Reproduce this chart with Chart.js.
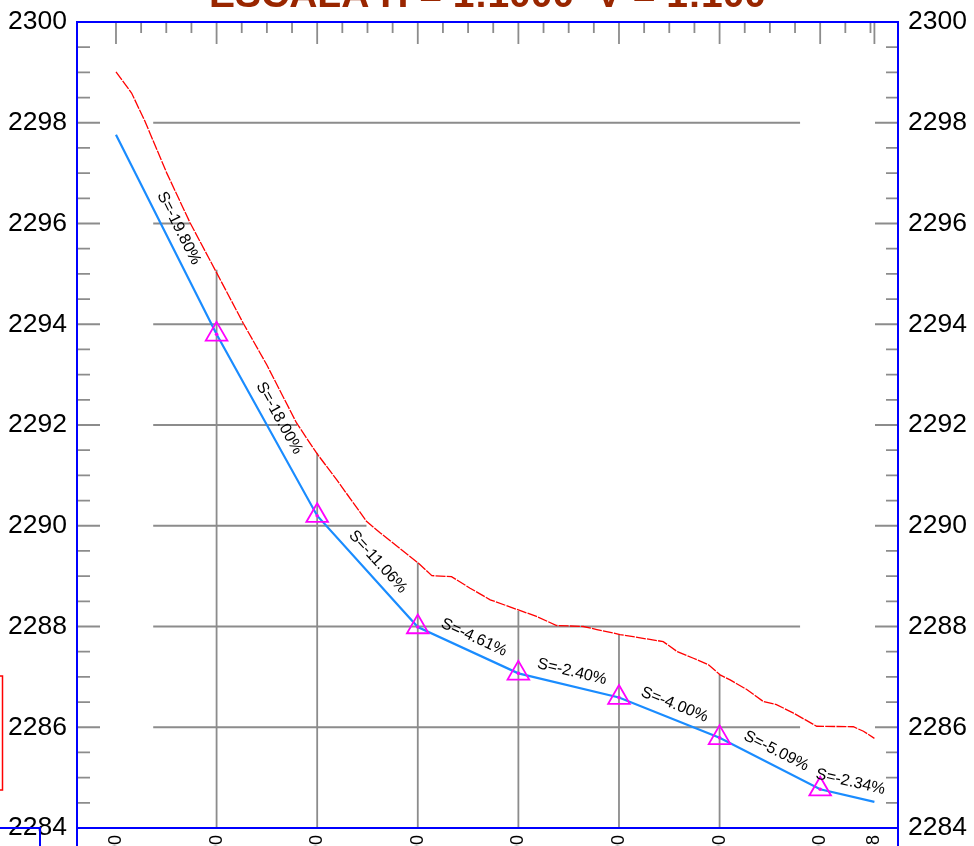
<!DOCTYPE html>
<html>
<head>
<meta charset="utf-8">
<title>Perfil longitudinal</title>
<script src="https://cdn.jsdelivr.net/npm/chart.js@4.4.0/dist/chart.umd.min.js"></script>
<style>
  html, body { margin: 0; padding: 0; background: #fff; overflow: hidden; }
  #wrap { position: relative; width: 974px; height: 980px; }
</style>
</head>
<body>
<div id="wrap"><canvas id="profile" width="974" height="980"></canvas></div>
<script>
const FONT = "'Liberation Sans', Arial, sans-serif";
const titleText = "ESCALA H = 1:1000  V = 1:100";

// stations of the grade break points (PVI) and the end of the alignment
const stations = [0, 20, 40, 60, 80, 100, 120, 140, 150.78];
const stationLabels = [
  "0+000.00", "0+020.00", "0+040.00", "0+060.00", "0+080.00",
  "0+100.00", "0+120.00", "0+140.00", "0+150.78",
];
const gradeElev = [2297.76, 2293.80, 2290.20, 2287.99, 2287.07, 2286.59, 2285.79, 2284.77, 2284.52];
const slopeLabels = [
  "S=-19.80%", "S=-18.00%", "S=-11.06%", "S=-4.61%",
  "S=-2.40%", "S=-4.00%", "S=-5.09%", "S=-2.34%",
];
const pviStations = [20, 40, 60, 80, 100, 120, 140];
const pviElev = [2293.80, 2290.20, 2287.99, 2287.07, 2286.59, 2285.79, 2284.77];

// existing ground (terreno natural)
const groundStations = [
  0, 3.1, 5.8, 10.1, 14.7, 19.7, 25.3, 30.0, 35.9, 39.9, 43.9, 49.8, 52.5,
  60.1, 62.8, 66.7, 70.4, 74.4, 78.3, 83.6, 87.6, 92.9, 95.6, 100.2, 108.8,
  111.6, 114.8, 117.8, 120.1, 122.1, 125.4, 128.7, 131.3, 134.7, 139.3,
  146.6, 148.6, 150.78,
];
const groundElev = [
  2299.01, 2298.59, 2298.02, 2297.00, 2296.02, 2295.08, 2294.02, 2293.19, 2292.04, 2291.44, 2290.91, 2290.09, 2289.86,
  2289.26, 2289.01, 2288.99, 2288.76, 2288.53, 2288.39, 2288.20, 2288.02, 2288.00, 2287.94, 2287.84, 2287.70,
  2287.50, 2287.37, 2287.24, 2287.04, 2286.94, 2286.75, 2286.51, 2286.45, 2286.28, 2286.02,
  2286.01, 2285.92, 2285.78,
];

// horizontal reference lines and how far they run
const gridElevations = [2298, 2296, 2294, 2292, 2290, 2288, 2286];
const gridStart = [7.4, 7.4, 7.4, 7.4, 7.4, 7.4, 7.4];
const gridEnd = [136, 14.7, 25.3, 36.0, 49.8, 136, 136];

// vertical station lines, from the bottom up to the ground
const vGridStations = [20, 40, 60, 80, 100, 120];
const vGridTop = [2295.08, 2291.45, 2289.27, 2288.31, 2287.84, 2287.04];

const yMin = 2284;
const yMax = 2300;
const yLabelStep = 2;
const yMinorStep = 0.5;
const topMinorStep = 5;
const topMajorStep = 20;

const gray = "#8c8c8c";

const hGridData = gridElevations.flatMap((e, i) => [
  { x: gridStart[i], y: e },
  { x: gridEnd[i], y: e },
  { x: gridEnd[i], y: null },
]);
const vGridData = vGridStations.flatMap((s, i) => [
  { x: s, y: yMin },
  { x: s, y: vGridTop[i] },
  { x: s, y: null },
]);

const profileDecor = {
  id: "profileDecor",
  beforeDatasetsDraw(chart) {
    const { ctx, chartArea: a, scales } = chart;
    const xs = scales.x;
    const ys = scales.y;
    ctx.save();
    ctx.strokeStyle = gray;
    ctx.lineWidth = 1.8;
    ctx.beginPath();
    // elevation ticks inside the frame, both sides
    for (let v = yMin; v <= yMax + 1e-9; v += yMinorStep) {
      const py = ys.getPixelForValue(v);
      const major = Math.abs(v / yLabelStep - Math.round(v / yLabelStep)) < 1e-6;
      const lenL = major ? 23 : 13;
      const lenR = major ? 23 : 12;
      ctx.moveTo(a.left, py);
      ctx.lineTo(a.left + lenL, py);
      ctx.moveTo(a.right, py);
      ctx.lineTo(a.right - lenR, py);
    }
    // station ticks hanging from the top edge
    const last = stations[stations.length - 1];
    for (let s = 0; s <= last; s += topMinorStep) {
      const px = xs.getPixelForValue(s);
      const len = s % topMajorStep === 0 ? 22 : 11;
      ctx.moveTo(px, a.top);
      ctx.lineTo(px, a.top + len);
    }
    const pe = xs.getPixelForValue(last);
    ctx.moveTo(pe, a.top);
    ctx.lineTo(pe, a.top + 22);
    ctx.stroke();
    ctx.restore();
  },
  afterDatasetsDraw(chart) {
    const { ctx, scales } = chart;
    const xs = scales.x;
    const ys = scales.y;
    ctx.save();
    ctx.fillStyle = "#000";
    ctx.font = `16px ${FONT}`;
    ctx.textAlign = "center";
    ctx.textBaseline = "middle";
    for (let i = 0; i < stations.length - 1; i += 1) {
      const x1 = xs.getPixelForValue(stations[i]);
      const y1 = ys.getPixelForValue(gradeElev[i]);
      const x2 = xs.getPixelForValue(stations[i + 1]);
      const y2 = ys.getPixelForValue(gradeElev[i + 1]);
      ctx.save();
      ctx.translate((x1 + x2) / 2, (y1 + y2) / 2);
      ctx.rotate(Math.atan2(y2 - y1, x2 - x1));
      ctx.fillText(slopeLabels[i], 0, -14);
      ctx.restore();
    }
    ctx.restore();
  },
  afterDraw(chart) {
    const { ctx, chartArea: a, height } = chart;
    ctx.save();
    // frame
    ctx.strokeStyle = "#0000ff";
    ctx.lineWidth = 2;
    ctx.beginPath();
    ctx.moveTo(a.left, height);
    ctx.lineTo(a.left, a.top);
    ctx.lineTo(a.right, a.top);
    ctx.lineTo(a.right, height);
    ctx.moveTo(a.left, a.bottom);
    ctx.lineTo(a.right, a.bottom);
    // neighbouring sheet pieces on the left edge
    ctx.moveTo(0, a.bottom);
    ctx.lineTo(40, a.bottom);
    ctx.lineTo(40, height);
    ctx.stroke();
    ctx.strokeStyle = "#ff0000";
    ctx.lineWidth = 1.5;
    ctx.beginPath();
    ctx.moveTo(0, 676);
    ctx.lineTo(2.5, 676);
    ctx.lineTo(2.5, 790);
    ctx.lineTo(0, 790);
    ctx.stroke();
    // sheet heading, cut by the page top
    ctx.fillStyle = "#992600";
    ctx.font = `bold 39px ${FONT}`;
    ctx.textAlign = "center";
    ctx.textBaseline = "alphabetic";
    ctx.fillText(titleText, (a.left + a.right) / 2, 7);
    ctx.restore();
  },
};

const yTicks = {
  stepSize: yLabelStep,
  padding: 10,
  color: "#000",
  font: { family: FONT, size: 26.5 },
  callback: (v) => String(v),
};

function fitY(width) {
  return (s) => {
    s.width = width;
    s.paddingTop = 0;
    s.paddingBottom = 0;
  };
}

new Chart(document.getElementById("profile"), {
  type: "line",
  data: {
    datasets: [
      {
        data: hGridData,
        borderColor: gray,
        borderWidth: 1.8,
        pointRadius: 0,
        spanGaps: false,
        order: 9,
      },
      {
        data: vGridData,
        borderColor: gray,
        borderWidth: 1.8,
        pointRadius: 0,
        spanGaps: false,
        order: 8,
      },
      {
        label: "Terreno",
        data: groundStations.map((s, i) => ({ x: s, y: groundElev[i] })),
        borderColor: "#ff0000",
        borderWidth: 1.3,
        borderDash: [10, 1.2],
        pointRadius: 0,
        order: 5,
      },
      {
        label: "Rasante",
        data: stations.map((s, i) => ({ x: s, y: gradeElev[i] })),
        borderColor: "#1a8cff",
        borderWidth: 2.2,
        pointRadius: 0,
        order: 4,
      },
      {
        label: "PVI",
        data: pviStations.map((s, i) => ({ x: s, y: pviElev[i] })),
        showLine: false,
        pointStyle: "triangle",
        pointRadius: 12.5,
        pointBorderColor: "#ff00ff",
        pointBackgroundColor: "rgba(0,0,0,0)",
        pointBorderWidth: 1.8,
        order: 2,
      },
      {
        data: pviStations.map((s, i) => ({ x: s, y: pviElev[i] })),
        showLine: false,
        pointStyle: "circle",
        pointRadius: 1.8,
        pointBorderWidth: 0,
        pointBackgroundColor: "#ff00ff",
        order: 1,
      },
    ],
  },
  options: {
    responsive: false,
    devicePixelRatio: 1,
    animation: false,
    events: [],
    layout: { padding: { top: 22, left: 0, right: 0, bottom: 0 } },
    plugins: {
      legend: { display: false },
      tooltip: { enabled: false },
      title: { display: false },
    },
    scales: {
      x: {
        type: "linear",
        position: "bottom",
        min: -7.75,
        max: 155.47,
        afterFit: (s) => {
          s.height = 152;
          s.paddingLeft = 0;
          s.paddingRight = 0;
        },
        afterBuildTicks: (s) => { s.ticks = stations.map((v) => ({ value: v })); },
        grid: { display: false, drawTicks: false },
        border: { display: false },
        ticks: {
          autoSkip: false,
          minRotation: 90,
          maxRotation: 90,
          padding: 7,
          color: "#000",
          font: { family: FONT, size: 18 },
          callback: (v, i) => stationLabels[i],
        },
      },
      y: {
        type: "linear",
        position: "left",
        min: yMin,
        max: yMax,
        afterFit: fitY(77),
        grid: { display: false, drawTicks: false },
        border: { display: false },
        ticks: yTicks,
      },
      yR: {
        type: "linear",
        position: "right",
        min: yMin,
        max: yMax,
        afterFit: fitY(76),
        grid: { display: false, drawTicks: false },
        border: { display: false },
        ticks: yTicks,
      },
    },
  },
  plugins: [profileDecor],
});
</script>
</body>
</html>
